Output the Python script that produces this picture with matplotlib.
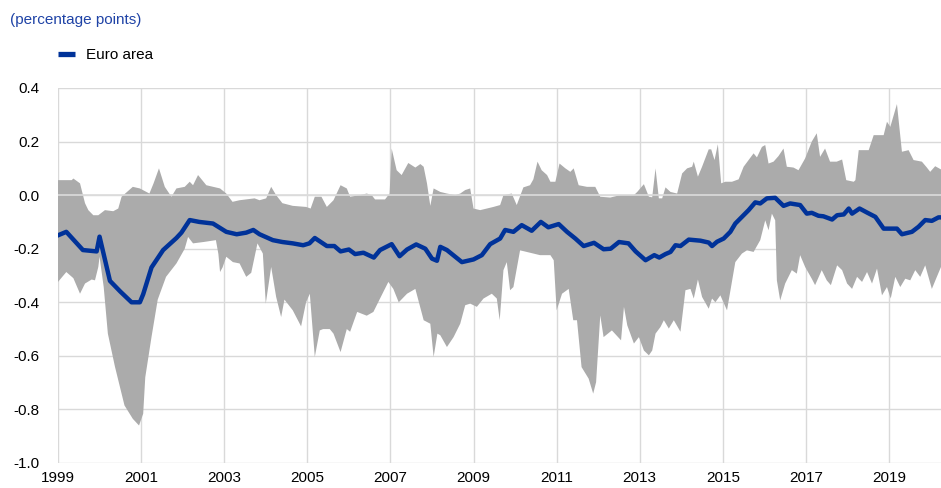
import numpy as np
import matplotlib
matplotlib.use('Agg')
import matplotlib.pyplot as plt
from matplotlib.lines import Line2D

plt.rcParams['font.family'] = ['Liberation Sans', 'DejaVu Sans']

# Euro area series (decimal year, percentage points)
euro_area = [
    (1999.0, -0.15), (1999.2, -0.137), (1999.6, -0.205), (1999.93, -0.21), (2000.0, -0.155),
    (2000.25, -0.32), (2000.5, -0.36), (2000.77, -0.40), (2000.97, -0.40), (2001.05, -0.37),
    (2001.25, -0.27), (2001.53, -0.205), (2001.85, -0.16), (2001.97, -0.14), (2002.17, -0.093),
    (2002.4, -0.10), (2002.73, -0.106), (2003.05, -0.137), (2003.3, -0.146), (2003.53, -0.14),
    (2003.7, -0.13), (2003.85, -0.146), (2004.17, -0.168), (2004.4, -0.175), (2004.65, -0.18),
    (2004.9, -0.187), (2005.05, -0.18), (2005.18, -0.16), (2005.47, -0.19), (2005.65, -0.19),
    (2005.8, -0.21), (2006.0, -0.203), (2006.15, -0.22), (2006.35, -0.215), (2006.6, -0.233),
    (2006.75, -0.205), (2007.03, -0.183), (2007.22, -0.228), (2007.4, -0.203), (2007.62, -0.184),
    (2007.84, -0.2), (2008.0, -0.237), (2008.12, -0.245), (2008.2, -0.193), (2008.36, -0.205),
    (2008.72, -0.25), (2009.0, -0.24), (2009.2, -0.224), (2009.4, -0.183), (2009.64, -0.162),
    (2009.76, -0.13), (2009.96, -0.137), (2010.16, -0.112), (2010.4, -0.133), (2010.62, -0.1),
    (2010.8, -0.12), (2011.05, -0.108), (2011.25, -0.137), (2011.45, -0.162), (2011.65, -0.19),
    (2011.9, -0.178), (2012.13, -0.202), (2012.3, -0.2), (2012.5, -0.175), (2012.73, -0.18),
    (2012.9, -0.21), (2013.14, -0.243), (2013.35, -0.224), (2013.47, -0.233), (2013.62, -0.22),
    (2013.74, -0.212), (2013.86, -0.187), (2013.98, -0.19), (2014.18, -0.166), (2014.46, -0.17),
    (2014.66, -0.177), (2014.74, -0.19), (2014.86, -0.174), (2015.02, -0.162), (2015.18, -0.137),
    (2015.3, -0.106), (2015.46, -0.081), (2015.62, -0.056), (2015.78, -0.027), (2015.9, -0.031),
    (2016.06, -0.012), (2016.26, -0.01), (2016.46, -0.04), (2016.62, -0.031), (2016.86, -0.037),
    (2017.02, -0.069), (2017.14, -0.066), (2017.3, -0.077), (2017.42, -0.079), (2017.63, -0.091),
    (2017.75, -0.075), (2017.91, -0.072), (2018.03, -0.05), (2018.11, -0.069), (2018.29, -0.05),
    (2018.47, -0.065), (2018.67, -0.081), (2018.87, -0.125), (2019.19, -0.125), (2019.31, -0.146),
    (2019.55, -0.137), (2019.71, -0.118), (2019.87, -0.093), (2020.03, -0.096), (2020.19, -0.083),
    (2020.25, -0.083),
]

# upper edge of the country range
range_max = [
    (1999.0, 0.056), (1999.33, 0.056), (1999.37, 0.062), (1999.53, 0.044), (1999.65, -0.03),
    (1999.73, -0.056), (1999.85, -0.075), (1999.97, -0.075), (2000.13, -0.056), (2000.33, -0.06),
    (2000.45, -0.05), (2000.53, -0.006), (2000.8, 0.031), (2000.97, 0.025), (2001.2, 0.006),
    (2001.3, 0.044), (2001.43, 0.10), (2001.57, 0.031), (2001.73, -0.006), (2001.85, 0.025),
    (2002.05, 0.031), (2002.17, 0.05), (2002.25, 0.037), (2002.37, 0.075), (2002.57, 0.037),
    (2002.9, 0.025), (2003.05, 0.006), (2003.2, -0.025), (2003.37, -0.019), (2003.73, -0.012),
    (2003.85, -0.019), (2004.01, -0.012), (2004.13, 0.031), (2004.25, 0.0), (2004.4, -0.03),
    (2004.65, -0.04), (2004.97, -0.044), (2005.08, -0.05), (2005.18, -0.006), (2005.34, -0.006),
    (2005.47, -0.044), (2005.63, -0.019), (2005.8, 0.037), (2005.95, 0.025), (2006.03, -0.006),
    (2006.27, 0.0), (2006.43, 0.006), (2006.55, 0.0), (2006.63, -0.016), (2006.87, -0.016),
    (2006.98, 0.006), (2007.03, 0.174), (2007.15, 0.093), (2007.27, 0.075), (2007.43, 0.12),
    (2007.6, 0.103), (2007.72, 0.116), (2007.8, 0.106), (2007.88, 0.044), (2007.96, -0.04),
    (2008.04, 0.025), (2008.2, 0.012), (2008.36, 0.006), (2008.56, 0.0), (2008.68, 0.006),
    (2008.8, 0.019), (2008.92, 0.025), (2009.0, -0.05), (2009.16, -0.056), (2009.32, -0.05),
    (2009.48, -0.044), (2009.64, -0.037), (2009.72, 0.0), (2009.92, 0.006), (2010.04, -0.037),
    (2010.2, 0.029), (2010.36, 0.037), (2010.44, 0.059), (2010.54, 0.125), (2010.64, 0.093),
    (2010.77, 0.075), (2010.85, 0.05), (2010.97, 0.05), (2011.07, 0.118), (2011.21, 0.1),
    (2011.33, 0.087), (2011.41, 0.1), (2011.53, 0.037), (2011.73, 0.031), (2011.93, 0.031),
    (2012.05, -0.006), (2012.29, -0.009), (2012.53, 0.0), (2012.86, 0.0), (2012.94, 0.012),
    (2013.1, 0.041), (2013.22, -0.006), (2013.3, -0.008), (2013.38, 0.10), (2013.46, -0.012),
    (2013.54, -0.012), (2013.62, 0.029), (2013.74, 0.012), (2013.9, 0.006), (2014.02, 0.081),
    (2014.14, 0.1), (2014.26, 0.106), (2014.3, 0.125), (2014.4, 0.069), (2014.5, 0.106),
    (2014.66, 0.171), (2014.72, 0.171), (2014.8, 0.131), (2014.88, 0.19), (2014.96, 0.044),
    (2015.06, 0.05), (2015.22, 0.05), (2015.38, 0.059), (2015.5, 0.106), (2015.62, 0.131),
    (2015.74, 0.156), (2015.82, 0.141), (2015.94, 0.18), (2016.02, 0.187), (2016.1, 0.118),
    (2016.22, 0.125), (2016.34, 0.146), (2016.46, 0.174), (2016.54, 0.106), (2016.7, 0.103),
    (2016.82, 0.093), (2016.98, 0.137), (2017.14, 0.2), (2017.26, 0.231), (2017.34, 0.143),
    (2017.46, 0.174), (2017.58, 0.125), (2017.74, 0.125), (2017.87, 0.133), (2017.97, 0.056),
    (2018.15, 0.05), (2018.19, 0.056), (2018.27, 0.168), (2018.51, 0.168), (2018.63, 0.224),
    (2018.87, 0.224), (2018.95, 0.274), (2019.03, 0.255), (2019.19, 0.34), (2019.31, 0.162),
    (2019.47, 0.168), (2019.59, 0.131), (2019.79, 0.125), (2019.91, 0.103), (2019.99, 0.087),
    (2020.11, 0.108), (2020.25, 0.096),
]

# lower edge of the country range
range_min = [
    (1999.0, -0.324), (1999.2, -0.287), (1999.37, -0.31), (1999.53, -0.368), (1999.65, -0.33),
    (1999.81, -0.315), (1999.89, -0.318), (1999.97, -0.268), (2000.0, -0.23), (2000.1, -0.343),
    (2000.2, -0.517), (2000.37, -0.64), (2000.6, -0.785), (2000.8, -0.835), (2000.95, -0.86),
    (2001.05, -0.816), (2001.1, -0.68), (2001.25, -0.53), (2001.4, -0.39), (2001.6, -0.305),
    (2001.85, -0.255), (2002.05, -0.2), (2002.13, -0.156), (2002.25, -0.18), (2002.5, -0.175),
    (2002.8, -0.168), (2002.86, -0.22), (2002.9, -0.287), (2002.96, -0.27), (2003.05, -0.23),
    (2003.21, -0.25), (2003.37, -0.255), (2003.53, -0.305), (2003.65, -0.29), (2003.8, -0.18),
    (2003.93, -0.218), (2004.0, -0.405), (2004.13, -0.268), (2004.25, -0.38), (2004.37, -0.455),
    (2004.45, -0.39), (2004.65, -0.43), (2004.85, -0.49), (2004.97, -0.40), (2005.06, -0.368),
    (2005.18, -0.604), (2005.3, -0.505), (2005.38, -0.5), (2005.54, -0.5), (2005.63, -0.517),
    (2005.8, -0.586), (2005.95, -0.5), (2006.03, -0.51), (2006.2, -0.436), (2006.43, -0.45),
    (2006.59, -0.436), (2006.75, -0.386), (2006.95, -0.324), (2007.07, -0.35), (2007.2, -0.4),
    (2007.4, -0.368), (2007.6, -0.35), (2007.8, -0.467), (2007.96, -0.48), (2008.04, -0.604),
    (2008.13, -0.517), (2008.2, -0.523), (2008.36, -0.567), (2008.52, -0.53), (2008.68, -0.48),
    (2008.8, -0.411), (2008.92, -0.405), (2009.08, -0.417), (2009.24, -0.386), (2009.44, -0.368),
    (2009.56, -0.386), (2009.63, -0.467), (2009.72, -0.28), (2009.8, -0.25), (2009.88, -0.355),
    (2009.96, -0.343), (2010.12, -0.206), (2010.28, -0.212), (2010.6, -0.224), (2010.85, -0.224),
    (2010.93, -0.243), (2011.0, -0.43), (2011.13, -0.368), (2011.29, -0.35), (2011.4, -0.467),
    (2011.49, -0.467), (2011.6, -0.642), (2011.77, -0.685), (2011.88, -0.741), (2011.95, -0.698),
    (2012.05, -0.449), (2012.13, -0.53), (2012.33, -0.505), (2012.55, -0.542), (2012.62, -0.417),
    (2012.7, -0.486), (2012.86, -0.554), (2012.98, -0.53), (2013.1, -0.58), (2013.22, -0.598),
    (2013.3, -0.58), (2013.38, -0.517), (2013.5, -0.492), (2013.58, -0.467), (2013.7, -0.498),
    (2013.82, -0.467), (2013.98, -0.51), (2014.1, -0.355), (2014.22, -0.35), (2014.3, -0.386),
    (2014.4, -0.315), (2014.5, -0.38), (2014.66, -0.424), (2014.74, -0.386), (2014.82, -0.4),
    (2014.94, -0.374), (2015.1, -0.43), (2015.3, -0.25), (2015.46, -0.218), (2015.58, -0.206),
    (2015.74, -0.212), (2015.9, -0.168), (2016.02, -0.094), (2016.1, -0.131), (2016.18, -0.069),
    (2016.26, -0.094), (2016.3, -0.318), (2016.38, -0.393), (2016.5, -0.33), (2016.66, -0.28),
    (2016.78, -0.293), (2016.86, -0.224), (2016.98, -0.268), (2017.14, -0.312), (2017.22, -0.336),
    (2017.38, -0.28), (2017.5, -0.318), (2017.6, -0.336), (2017.75, -0.262), (2017.87, -0.28),
    (2017.99, -0.33), (2018.11, -0.35), (2018.23, -0.305), (2018.35, -0.324), (2018.47, -0.287),
    (2018.59, -0.33), (2018.71, -0.274), (2018.83, -0.374), (2018.95, -0.343), (2019.04, -0.386),
    (2019.15, -0.305), (2019.27, -0.343), (2019.39, -0.312), (2019.51, -0.318), (2019.63, -0.28),
    (2019.75, -0.305), (2019.87, -0.262), (2020.03, -0.35), (2020.15, -0.305), (2020.25, -0.268),
]

year_ticks = list(range(1999, 2021, 2))
y_ticks = [0.4, 0.2, 0.0, -0.2, -0.4, -0.6, -0.8, -1.0]

blue = '#003299'
grey = '#ababab'

line_x, line_y = zip(*euro_area)
hi_x, hi_y = zip(*range_max)
lo_x, lo_y = zip(*range_min)

fig = plt.figure(figsize=(9.41, 4.88), dpi=100)
ax = fig.add_axes([58 / 941, 1 - 463 / 488, 1 - 58 / 941, (463 - 88) / 488])

# grid sits behind the band, only the zero line is drawn over it
ax.grid(True, color='#d9d9d9', lw=1.0)
ax.set_axisbelow(True)

# min-max band as one polygon: top edge forwards, bottom edge backwards
ax.fill(list(hi_x) + list(lo_x)[::-1], list(hi_y) + list(lo_y)[::-1],
        color=grey, lw=0, zorder=1)
ax.axhline(0, color='#dcdcdc', lw=1.2, zorder=2)
ax.plot(line_x, line_y, color=blue, lw=3.2, zorder=3, solid_joinstyle='round')

ax.set_xlim(1999, 2020.25)
ax.set_ylim(-1.0, 0.4)
ax.set_xticks(year_ticks)
ax.set_xticklabels([str(y) for y in year_ticks])
ax.set_yticks(y_ticks)
ax.set_yticklabels(['%.1f' % v for v in y_ticks])
for s in ax.spines.values():
    s.set_visible(False)
ax.tick_params(length=0, labelsize=11, colors='#000000')
ax.tick_params(axis='y', pad=13)
ax.tick_params(axis='x', pad=6)

fig.text(10 / 941, 1 - 20 / 488, '(percentage points)', color='#1f43a6',
         fontsize=11, va='center', ha='left')

handle = Line2D([], [], color=blue, lw=3.8, solid_capstyle='butt')
fig.legend([handle], ['Euro area'], loc='center left',
           bbox_to_anchor=(52 / 941, 1 - 55 / 488), frameon=False,
           fontsize=11, handlelength=1.1, handletextpad=0.7, borderaxespad=0)

fig.savefig('out.png', dpi=100)
